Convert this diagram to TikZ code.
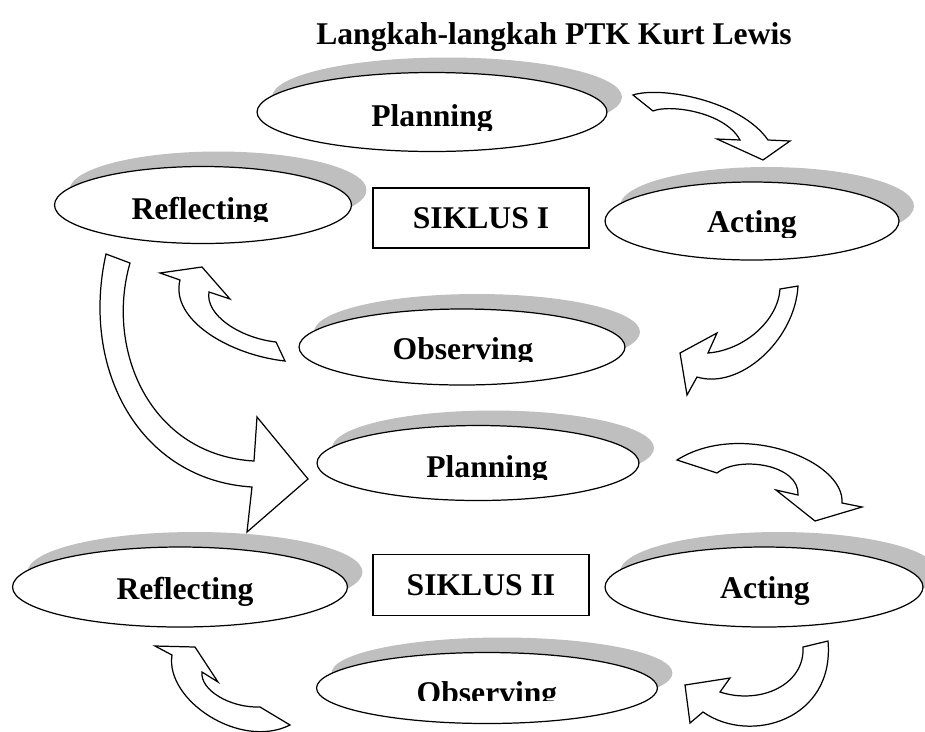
\documentclass[tikz,border=0pt]{standalone}
\usepackage{fontspec}
\setmainfont{Liberation Serif}
\usepackage{tikz}
\usetikzlibrary{shapes.geometric, shadows}
\usepackage{xcolor}
\definecolor{shadowgray}{HTML}{BFBFBF}

\tikzset{
  stage/.style 2 args={ellipse, draw, line width=0.7pt, fill=white, inner sep=0pt,
    minimum width=#1, minimum height=#2,
    drop shadow={shadow xshift=0.3cm, shadow yshift=0.3cm, fill=shadowgray, opacity=1}},
  cyclebox/.style 2 args={rectangle, draw, line width=0.8pt, inner sep=0pt,
    minimum width=#1, minimum height=#2, font=\bfseries\fontsize{18pt}{20pt}\selectfont},
  lbl/.style={anchor=base, inner sep=0pt, font=\bfseries\fontsize{18pt}{20pt}\selectfont},
  bentarrow/.style={draw, fill=white, line width=0.7pt, line join=miter}
}

% label cut off below a given line
\newcommand\cutlabel[4]{%
  \begin{scope}
    \clip (0,0) rectangle (925,#4);
    \node[lbl] (#1) at #2 {#3};
  \end{scope}}

\begin{document}
\begin{tikzpicture}[x=0.02cm, y=-0.02cm]
    \useasboundingbox (0,0) rectangle (925,731);
    \clip (0,0) rectangle (925,731);

    \node[lbl] (title) at (554,44) {Langkah-langkah PTK Kurt Lewis};

    % siklus I
    \node[stage={7cm}{1.58cm}] (plan1) at (432,112) {};
    \node[stage={5.94cm}{1.54cm}] (refl1) at (203,205) {};
    \node[stage={5.88cm}{1.56cm}] (act1) at (752,221) {};
    \node[stage={6.52cm}{1.52cm}] (obs1) at (462,347) {};
    \node[cyclebox={4.32cm}{1.2cm}] (siklus1) at (481,218) {SIKLUS I};
    \cutlabel{planlbl1}{(432,126)}{Planning}{130}
    \cutlabel{refllbl1}{(200,219)}{Reflecting}{221}
    \cutlabel{actlbl1}{(752,232)}{Acting}{237}
    \cutlabel{obslbl1}{(463,359)}{Observing}{361}

    % siklus II
    \node[stage={6.44cm}{1.5cm}] (plan2) at (478,463) {};
    \node[stage={6.7cm}{1.6cm}] (refl2) at (180,587) {};
    \node[stage={6.36cm}{1.6cm}] (act2) at (764,587) {};
    \node[stage={6.82cm}{1.42cm}] (obs2) at (487,688) {};
    \node[cyclebox={4.32cm}{1.22cm}] (siklus2) at (481,585) {SIKLUS II};
    \cutlabel{planlbl2}{(487,477)}{Planning}{479}
    \cutlabel{refllbl2}{(185,599)}{Reflecting}{606}
    \cutlabel{actlbl2}{(765,598)}{Acting}{604}
    \cutlabel{obslbl2}{(487,703)}{Observing}{700}

    % curved block arrows
    \draw[bentarrow] (633,95) .. controls (660,86) and (740,100) .. (768,140)
        -- (790,141) -- (763,160) -- (717,139) -- (740,140)
        .. controls (725,112) and (670,104) .. (653,111) -- cycle;
    \draw[bentarrow] (780,289) .. controls (778,320) and (745,350) .. (708,353)
        -- (717,333) -- (680,353) -- (687,395) -- (697,377)
        .. controls (740,390) and (795,340) .. (798,286) -- cycle;
    \draw[bentarrow] (276,342) .. controls (240,338) and (205,315) .. (209,292)
        -- (230,299) -- (202,267) -- (160,273) -- (180,280)
        .. controls (170,320) and (230,355) .. (285,361) -- cycle;
    \draw[bentarrow] (130,263) .. controls (105,350) and (150,455) .. (254,461)
        -- (257,417) -- (308,479) -- (247,532) -- (252,487)
        .. controls (140,480) and (80,370) .. (106,254) -- cycle;
    \draw[bentarrow] (717,473) .. controls (740,455) and (800,465) .. (798,495)
        -- (776,490) -- (815,521) -- (862,507) -- (842,503)
        .. controls (845,460) and (740,420) .. (677,460) -- cycle;
    \draw[bentarrow] (803,647) .. controls (805,685) and (760,705) .. (720,692)
        -- (730,678) -- (685,685) -- (690,723) -- (703,712)
        .. controls (750,745) and (835,720) .. (828,641) -- cycle;
    \draw[bentarrow] (260,707) .. controls (230,708) and (200,690) .. (202,672)
        -- (218,682) -- (195,647) -- (155,646) -- (172,655)
        .. controls (165,700) and (240,750) .. (290,725) -- cycle;
\end{tikzpicture}
\end{document}
